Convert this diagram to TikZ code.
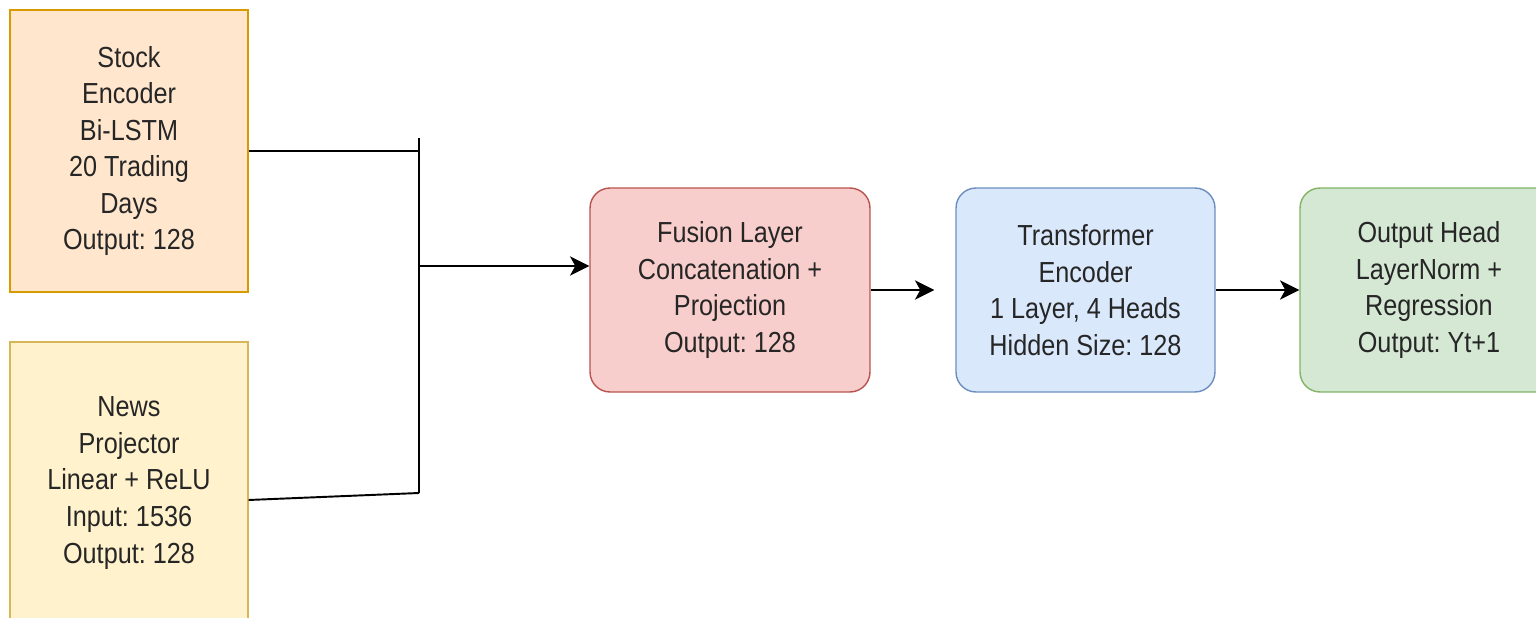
\documentclass[tikz,border=0pt]{standalone}
\usepackage{fontspec}
\setmainfont{Liberation Sans}[FakeStretch=0.87]
\usepackage{tikz}
\usetikzlibrary{shapes}
\usetikzlibrary{arrows.meta,positioning}

\definecolor{stockfill}{HTML}{FFE6CC}
\definecolor{stockline}{HTML}{D79B00}
\definecolor{newsfill}{HTML}{FFF2CC}
\definecolor{newsline}{HTML}{D6B656}
\definecolor{fusefill}{HTML}{F8CECC}
\definecolor{fuseline}{HTML}{B85450}
\definecolor{transfill}{HTML}{DAE8FC}
\definecolor{transline}{HTML}{6C8EBF}
\definecolor{headfill}{HTML}{D5E8D4}
\definecolor{headline}{HTML}{82B366}
\definecolor{ink}{HTML}{262626}

\tikzset{
  block/.style={draw, line width=0.8pt, align=center, text=ink,
    font=\fontsize{16.5}{20.8}\selectfont\frenchspacing, inner sep=0pt},
  inbox/.style={block, minimum width=4.76cm, minimum height=5.64cm},
  stage/.style={block, rounded corners=0.4cm, minimum height=4.08cm},
  wire/.style={line width=1.1pt},
  tip/.style={wire, -{Stealth[length=11pt, width=11pt, inset=3pt]}},
}

\begin{document}
\begin{tikzpicture}
      [x=0.02cm, y=-0.02cm]
      \clip (0,0) rectangle (1536,618);
      \fill [white] (0,0) rectangle (1536,618);

      \node [inbox, fill=stockfill, draw=stockline] (stock) at (129,151)
        {Stock\\Encoder\\Bi-LSTM\\20 Trading\\Days\\Output: 128};
      \node [inbox, fill=newsfill, draw=newsline] (news) at (129,483)
        {News\\Projector\\Linear + ReLU\\Input: 1536\\Output: 128};
      \node [stage, minimum width=5.6cm, fill=fusefill, draw=fuseline] (fusion) at (730,290)
        {Fusion Layer\\Concatenation +\\Projection\\Output: 128};
      \node [stage, minimum width=5.18cm, fill=transfill, draw=transline] (trans) at (1085.5,290)
        {Transformer\\Encoder\\1 Layer, 4 Heads\\Hidden Size: 128};
      \node [stage, minimum width=5.16cm, fill=headfill, draw=headline] (head) at (1429,290)
        {Output Head\\LayerNorm +\\Regression\\Output: Yt+1};

      % merge bus
      \coordinate (busTop) at (419,138);
      \coordinate (busMid) at (419,266);
      \coordinate (busBot) at (419,493);

      \draw [wire] (busTop) to (busBot);
      \draw [wire] (stock.east) to (stock.east -| busTop);
      \draw [wire] ([yshift=-0.34cm]news.east) to (busBot);
      \draw [tip] (busMid) to (busMid -| fusion.west);
      \draw [tip] (fusion.east) to ([xshift=-0.42cm]trans.west);
      \draw [tip] (trans.east) to (head.west);
    \end{tikzpicture}
\end{document}
